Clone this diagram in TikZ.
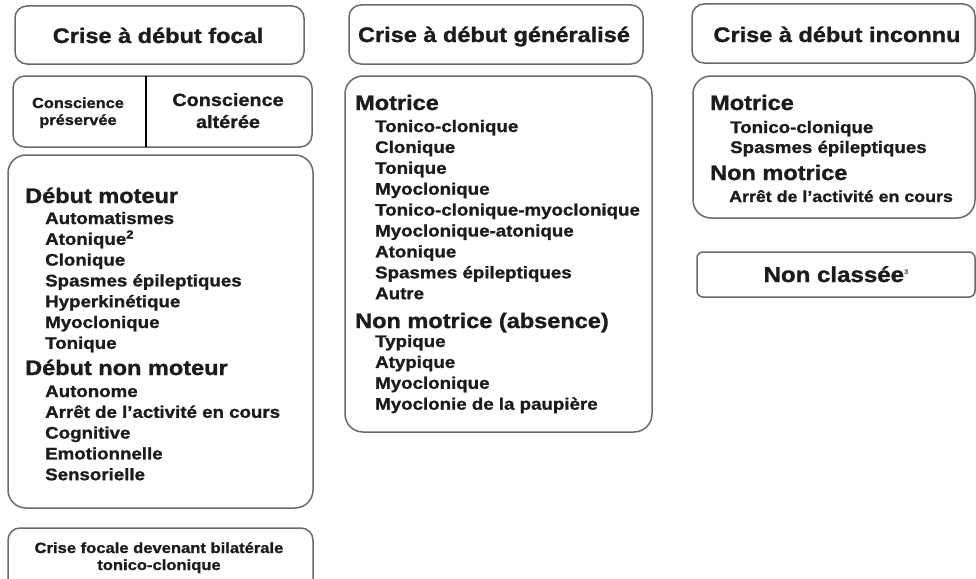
\documentclass[tikz,border=0pt]{standalone}
\usepackage{fontspec}
\setmainfont{Liberation Sans}[FakeStretch=1.12, BoldFeatures={FakeBold=1.2}]
\definecolor{edge}{HTML}{6A6A6A}
\definecolor{ink}{HTML}{1C1C1C}
\begin{document}
\begin{tikzpicture}[x=1pt,y=-1pt,
  box/.style={draw=edge, line width=1.5pt, rounded corners=12pt},
  bigbox/.style={draw=edge, line width=1.5pt, rounded corners=18pt},
  ttl/.style={font=\fontsize{21}{21}\selectfont\bfseries, text=ink, inner sep=0pt, anchor=base},
  hd/.style={font=\fontsize{21}{21}\selectfont\bfseries, text=ink, inner sep=0pt, anchor=base west},
  it/.style={font=\fontsize{16.7}{16.7}\selectfont\bfseries, text=ink, inner sep=0pt, anchor=base west},
  sm/.style={font=\fontsize{14.6}{14.6}\selectfont\bfseries, text=ink, inner sep=0pt, anchor=base},
  md/.style={font=\fontsize{17.7}{17.7}\selectfont\bfseries, text=ink, inner sep=0pt, anchor=base},
]
\useasboundingbox (0,0) rectangle (976,578);
\clip (0,0) rectangle (976,578);
\fill[white] (0,0) rectangle (976,578);

% ---------- left column ----------
\draw[box] (15,6) rectangle (304,64);
\node[ttl] (t1) at (158,43) {Crise à début focal};

\draw[box] (13,76) rectangle (312,147);
\draw[black, line width=2pt] (146,76) -- (146,147);
\node[sm] (cp1) at (78,108) {Conscience};
\node[sm] (cp2) at (78,125) {préservée};
\node[md] (ca1) at (228,106) {Conscience};
\node[md] (ca2) at (228,128) {altérée};

\draw[bigbox] (8,155) rectangle (313,508);
\node[hd] (dm) at (25,203) {Début moteur};
\foreach \t/\y [count=\i] in {Automatismes/224, Atonique\textsuperscript{2}/244.8, Clonique/265.6,
  Spasmes épileptiques/286.4, Hyperkinétique/307.2, Myoclonique/328, Tonique/348.8}
  \node[it] (fm\i) at (45,\y) {\t};
\node[hd] (dnm) at (25,375) {Début non moteur};
\foreach \t/\y [count=\i] in {Autonome/397, Arrêt de l’activité en cours/417.8, Cognitive/438.6,
  Emotionnelle/459.4, Sensorielle/480.2}
  \node[it] (fn\i) at (45,\y) {\t};

\draw[box] (8,528) rectangle (313,600);
\node[sm, font=\fontsize{14.8}{14.8}\selectfont\bfseries] (b1) at (159,553) {Crise focale devenant bilatérale};
\node[sm, font=\fontsize{14.8}{14.8}\selectfont\bfseries] (b2) at (159,570) {tonico-clonique};

% ---------- middle column ----------
\draw[box] (349,5) rectangle (643,64);
\node[ttl] (t2) at (494,42) {Crise à début généralisé};

\draw[bigbox] (345,76) rectangle (652,432);
\node[hd] (gm) at (355,110) {Motrice};
\foreach \t/\y [count=\i] in {Tonico-clonique/132, Clonique/152.9, Tonique/173.8, Myoclonique/194.7,
  Tonico-clonique-myoclonique/215.6, Myoclonique-atonique/236.5, Atonique/257.4,
  Spasmes épileptiques/278.3, Autre/299.2}
  \node[it] (gi\i) at (375,\y) {\t};
\node[hd] (gn) at (355,328) {Non motrice (absence)};
\foreach \t/\y [count=\i] in {Typique/347, Atypique/367.9, Myoclonique/388.8, Myoclonie de la paupière/409.7}
  \node[it] (gj\i) at (375,\y) {\t};

% ---------- right column ----------
\draw[box] (692,4) rectangle (975,63);
\node[ttl] (t3) at (837,42) {Crise à début inconnu};

\draw[bigbox] (693,76) rectangle (975,218);
\node[hd] (um) at (710,110) {Motrice};
\node[it] (ui1) at (730,133) {Tonico-clonique};
\node[it] (ui2) at (730,153) {Spasmes épileptiques};
\node[hd] (un) at (710,180) {Non motrice};
\node[it, font=\fontsize{15.9}{15.9}\selectfont\bfseries] (uj1) at (729,202) {Arrêt de l’activité en cours};

\draw[draw=edge, line width=1.5pt, rounded corners=6pt] (697,252) rectangle (975,297);
\node[ttl, font=\fontsize{21.5}{21.5}\selectfont\bfseries] (nc) at (836,282) {Non classée\raisebox{0.7ex}{\fontsize{7}{7}\selectfont\color{gray}3}};
\end{tikzpicture}
\end{document}
